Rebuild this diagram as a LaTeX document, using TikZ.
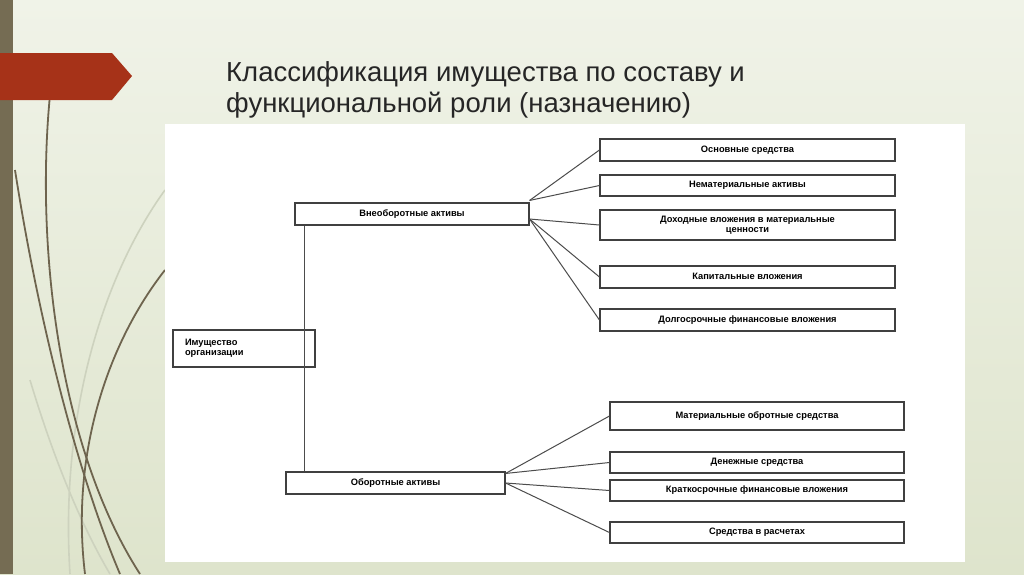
\documentclass[tikz,border=0pt]{standalone}
\usepackage{fontspec}
\setmainfont{Liberation Sans}
\definecolor{bgtop}{RGB}{240,243,232}
\definecolor{bgbot}{RGB}{222,228,204}
\definecolor{barc}{RGB}{117,108,83}
\definecolor{redc}{RGB}{166,50,24}
\definecolor{decoc}{RGB}{110,100,78}
\definecolor{decol}{RGB}{205,210,190}
\begin{document}
\begin{tikzpicture}[x=1pt,y=-1pt,
  bx/.style={draw=black!75,line width=1.1pt,fill=white,inner sep=0pt,font=\bfseries\fontsize{9.3}{10.5}\selectfont,align=center},
  ln/.style={draw=black!70,line width=1pt},
  deco/.style={draw=decoc,line width=1.8pt},
  decol/.style={draw=decol,line width=1.6pt}]
\useasboundingbox (0,0) rectangle (1024,574);
\shade[top color=bgtop, bottom color=bgbot] (0,0) rectangle (1024,574);
% deco curves
\draw[decol] (30,380) .. controls (60,480) and (90,540) .. (110,574);
\draw[decol] (165,190) .. controls (100,280) and (60,420) .. (70,574);
\draw[deco] (50,95) .. controls (35,250) and (60,450) .. (140,574);
\draw[deco] (15,170) .. controls (40,330) and (80,480) .. (120,574);
\draw[deco] (165,270) .. controls (110,340) and (70,450) .. (85,574);
\fill[barc] (0,0) rectangle (13,574);
\fill[redc] (0,53) -- (112,53) -- (132,76) -- (112,100) -- (0,100) -- cycle;
\node[anchor=west,font=\fontsize{27.5}{31}\selectfont,align=left,text=black!85,inner sep=0pt] (title) at (226,90) {Классификация имущества по составу и\\функциональной роли (назначению)};
\fill[white] (165,124) rectangle (965,562);
% boxes
\node[bx,minimum width=142pt,minimum height=37pt,align=left,text width=118pt] (root) at (244,348.5) {Имущество\\организации};
\node[bx,minimum width=234pt,minimum height=22pt] (vn) at (412,214) {\strut Внеоборотные активы};
\node[bx,minimum width=219pt,minimum height=22pt] (ob) at (395.5,483) {\strut Оборотные активы};
\node[bx,minimum width=295pt,minimum height=22pt] (a1) at (747.5,150) {\strut Основные средства};
\node[bx,minimum width=295pt,minimum height=21pt] (a2) at (747.5,185.5) {\strut Нематериальные активы};
\node[bx,minimum width=295pt,minimum height=30pt] (a3) at (747.5,225) {Доходные вложения в материальные\\ценности};
\node[bx,minimum width=295pt,minimum height=22pt] (a4) at (747.5,277) {\strut Капитальные вложения};
\node[bx,minimum width=295pt,minimum height=22pt] (a5) at (747.5,320) {\strut Долгосрочные финансовые вложения};
\node[bx,minimum width=294pt,minimum height=28pt] (b1) at (757,416) {\strut Материальные обротные средства};
\node[bx,minimum width=294pt,minimum height=21pt] (b2) at (757,462.5) {\strut Денежные средства};
\node[bx,minimum width=294pt,minimum height=21pt] (b3) at (757,490.5) {\strut Краткосрочные финансовые вложения};
\node[bx,minimum width=294pt,minimum height=21pt] (b4) at (757,532.5) {\strut Средства в расчетах};
% connectors
\draw[ln] ([xshift=10pt]vn.south west) -- ([xshift=19pt]ob.north west);
\draw[ln] ([yshift=2pt]vn.north east) -- (a1.west);
\draw[ln] ([yshift=2pt]vn.north east) -- (a2.west);
\draw[ln] ([yshift=-5pt]vn.east) -- (a3.west);
\draw[ln] ([yshift=-5pt]vn.east) -- (a4.west);
\draw[ln] ([yshift=-5pt]vn.east) -- (a5.west);
\draw[ln] ([yshift=-2pt]ob.north east) -- (b1.west);
\draw[ln] ([yshift=-2pt]ob.north east) -- (b2.west);
\draw[ln] (ob.east) -- (b3.west);
\draw[ln] (ob.east) -- (b4.west);
\end{tikzpicture}
\end{document}
